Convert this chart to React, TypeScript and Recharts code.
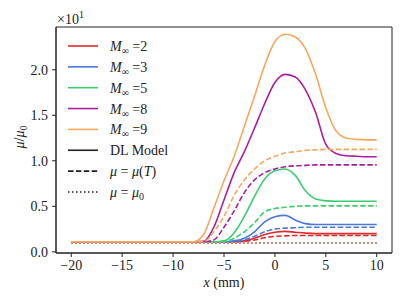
import { LineChart, Line, XAxis, YAxis, ReferenceArea } from 'recharts';

// x positions (mm) shared by all series
const xs = [-20, -9, -8, -7, -6, -5, -4, -3, -2, -1, 0, 1, 2, 3, 4, 5, 6, 7, 8, 9, 10];

// DL model (solid)
const m2Model = [0.11, 0.11, 0.11, 0.11, 0.11, 0.11, 0.11, 0.12, 0.15, 0.19, 0.215, 0.225, 0.215, 0.205, 0.2, 0.2, 0.2, 0.2, 0.2, 0.2, 0.2];
const m3Model = [0.11, 0.11, 0.11, 0.11, 0.11, 0.11, 0.12, 0.15, 0.22, 0.33, 0.385, 0.4, 0.35, 0.31, 0.3, 0.3, 0.3, 0.3, 0.3, 0.3, 0.3];
const m5Model = [0.11, 0.11, 0.11, 0.11, 0.11, 0.12, 0.21, 0.39, 0.61, 0.8, 0.89, 0.91, 0.84, 0.67, 0.58, 0.56, 0.555, 0.555, 0.555, 0.555, 0.555];
const m8Model = [0.11, 0.11, 0.11, 0.115, 0.27, 0.57, 0.87, 1.1, 1.36, 1.63, 1.86, 1.95, 1.92, 1.78, 1.53, 1.18, 1.08, 1.055, 1.05, 1.045, 1.045];
const m9Model = [0.11, 0.11, 0.11, 0.19, 0.48, 0.78, 1.05, 1.38, 1.71, 2.05, 2.31, 2.39, 2.36, 2.23, 1.95, 1.58, 1.33, 1.25, 1.235, 1.23, 1.23];

// mu = mu(T) (dashed)
const m2Temp = [0.11, 0.11, 0.11, 0.11, 0.11, 0.11, 0.11, 0.115, 0.13, 0.155, 0.17, 0.175, 0.18, 0.18, 0.18, 0.18, 0.18, 0.18, 0.18, 0.18, 0.18];
const m3Temp = [0.11, 0.11, 0.11, 0.11, 0.11, 0.11, 0.115, 0.13, 0.17, 0.22, 0.25, 0.26, 0.265, 0.27, 0.27, 0.27, 0.27, 0.27, 0.27, 0.27, 0.27];
const m5Temp = [0.11, 0.11, 0.11, 0.11, 0.11, 0.115, 0.15, 0.22, 0.32, 0.44, 0.475, 0.49, 0.5, 0.505, 0.505, 0.505, 0.505, 0.505, 0.505, 0.505, 0.505];
const m8Temp = [0.11, 0.11, 0.11, 0.11, 0.13, 0.27, 0.45, 0.65, 0.79, 0.87, 0.91, 0.935, 0.945, 0.95, 0.955, 0.955, 0.955, 0.955, 0.955, 0.955, 0.955];
const m9Temp = [0.11, 0.11, 0.11, 0.11, 0.22, 0.39, 0.62, 0.79, 0.91, 1.0, 1.05, 1.085, 1.1, 1.115, 1.12, 1.125, 1.125, 1.125, 1.125, 1.125, 1.125];

// mu = mu0 (dotted)
const muConst = [0.1, 0.1, 0.1, 0.1, 0.1, 0.1, 0.1, 0.1, 0.1, 0.1, 0.1, 0.1, 0.1, 0.1, 0.1, 0.1, 0.1, 0.1, 0.1, 0.1, 0.1];

const machs = [2, 3, 5, 8, 9];
const colors = ['#dd2a2a', '#4a78dd', '#3dcc6e', '#a8209f', '#f6a860'];
const models = [m2Model, m3Model, m5Model, m8Model, m9Model];
const temps = [m2Temp, m3Temp, m5Temp, m8Temp, m9Temp];

const xTicks = [-20, -15, -10, -5, 0, 5, 10];
const yTicks = [0, 0.5, 1, 1.5, 2];

const rows = xs.map((x, i) => {
  const r: Record<string, number> = { x };
  machs.forEach((m, k) => {
    r[`dl${m}`] = models[k][i];
    r[`t${m}`] = temps[k][i];
    r[`c${m}`] = muConst[i];
  });
  return r;
});

const FONT = '"Liberation Serif", serif';
const INK = '#222';

function LegendBox() {
  const rowH = 20.85;
  const entries = [
    ...machs.map((m, k) => ({
      color: colors[k],
      dash: undefined as string | undefined,
      label: (
        <>
          <tspan fontStyle="italic">M</tspan>
          <tspan fontSize="10" dy="3">∞</tspan>
          <tspan dy="-3">{` =${m}`}</tspan>
        </>
      ),
    })),
    { color: INK, dash: undefined, label: <>DL Model</> },
    {
      color: INK,
      dash: '5.5 2.4',
      label: (
        <>
          <tspan fontStyle="italic">μ</tspan> = <tspan fontStyle="italic">μ</tspan>(<tspan fontStyle="italic">T</tspan>)
        </>
      ),
    },
    {
      color: INK,
      dash: '1.5 2.5',
      label: (
        <>
          <tspan fontStyle="italic">μ</tspan> = <tspan fontStyle="italic">μ</tspan>
          <tspan fontSize="10" dy="3">0</tspan>
        </>
      ),
    },
  ];
  return (
    <svg width={140} height={175} style={{ position: 'absolute', left: 60, top: 34, pointerEvents: 'none' }}>
      {entries.map((e, i) => {
        const y = 12 + i * rowH;
        return (
          <g key={i}>
            <line x1={8} x2={38} y1={y} y2={y} stroke={e.color} strokeWidth={1.6} strokeDasharray={e.dash} />
            <text x={50} y={y + 5} fontFamily={FONT} fontSize={14} fill={INK}>
              {e.label}
            </text>
          </g>
        );
      })}
    </svg>
  );
}

export default function App() {
  return (
    <div style={{ position: 'relative', width: 407, height: 305 }}>
      <style>{`body{margin:0}`}</style>
      <LineChart width={407} height={305} data={rows} margin={{ top: 27, right: 15, bottom: 0, left: 0 }}>
        <XAxis
          dataKey="x"
          type="number"
          domain={[-21.5, 11.5]}
          allowDataOverflow
          ticks={xTicks}
          tickFormatter={(v: number) => (v < 0 ? `−${-v}` : `${v}`)}
          height={52}
          tickSize={4}
          tickMargin={3}
          stroke={INK}
          tick={{ fill: INK, fontSize: 14, fontFamily: FONT }}
        />
        <YAxis
          type="number"
          domain={[-0.013, 2.47]}
          allowDataOverflow
          ticks={yTicks}
          tickFormatter={(v: number) => v.toFixed(1)}
          width={56}
          tickSize={4}
          tickMargin={4}
          stroke={INK}
          tick={{ fill: INK, fontSize: 14, fontFamily: FONT }}
        />
        <ReferenceArea x1={-21.5} x2={11.5} y1={-0.013} y2={2.47} fill="none" stroke={INK} strokeWidth={1} />
        {machs.flatMap((m, k) => [
          <Line key={`dl${m}`} dataKey={`dl${m}`} type="monotone" stroke={colors[k]} strokeWidth={1.6} dot={false} isAnimationActive={false} />,
          <Line key={`t${m}`} dataKey={`t${m}`} type="monotone" stroke={colors[k]} strokeWidth={1.6} strokeDasharray="5.5 2.4" dot={false} isAnimationActive={false} />,
          <Line key={`c${m}`} dataKey={`c${m}`} type="monotone" stroke={colors[k]} strokeWidth={1.6} strokeDasharray="1.5 2.5" dot={false} isAnimationActive={false} />,
        ])}
      </LineChart>
      <LegendBox />
      <svg width={407} height={305} style={{ position: 'absolute', left: 0, top: 0, pointerEvents: 'none' }}>
        <text x={57} y={24} fontFamily={FONT} fontSize={14} fill={INK}>
          ×10<tspan fontSize="10" dy="-6">1</tspan>
        </text>
        <text x={224} y={287} textAnchor="middle" fontFamily={FONT} fontSize={14} fill={INK}>
          <tspan fontStyle="italic">x</tspan> (mm)
        </text>
        <text transform="translate(24,137) rotate(-90)" textAnchor="middle" fontFamily={FONT} fontSize={14} fill={INK}>
          <tspan fontStyle="italic">μ</tspan>/<tspan fontStyle="italic">μ</tspan>
          <tspan fontSize="10" dy="3">0</tspan>
        </text>
      </svg>
    </div>
  );
}
